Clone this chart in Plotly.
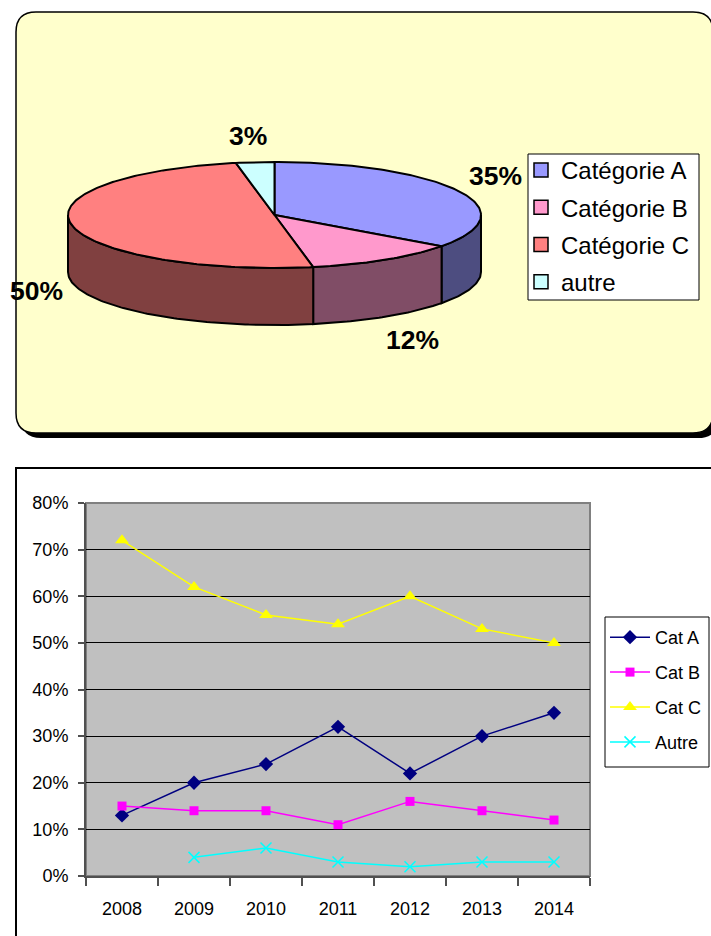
import numpy as np
import plotly.graph_objects as go

# ---------------- data ----------------
pie_labels = ["Catégorie A", "Catégorie B", "Catégorie C", "autre"]
pie_values = [35, 12, 50, 3]
pie_top_colors = ["#9999FF", "#FF99CC", "#FF8080", "#CCFFFF"]
pie_side_colors = ["#4D4D80", "#804D66", "#804040", "#668080"]

years = ["2008", "2009", "2010", "2011", "2012", "2013", "2014"]
cat_a = [0.13, 0.20, 0.24, 0.32, 0.22, 0.30, 0.35]
cat_b = [0.15, 0.14, 0.14, 0.11, 0.16, 0.14, 0.12]
cat_c = [0.72, 0.62, 0.56, 0.54, 0.60, 0.53, 0.50]
autre = [None, 0.04, 0.06, 0.03, 0.02, 0.03, 0.03]
series_names = ["Cat A", "Cat B", "Cat C", "Autre"]
series_colors = ["#000080", "#FF00FF", "#FFFF00", "#00FFFF"]
series_symbols = ["diamond", "square", "triangle-up", "x-thin"]
series_sizes = [11, 9, 12, 11]
y_ticks = [0, 0.1, 0.2, 0.3, 0.4, 0.5, 0.6, 0.7, 0.8]

# ---------------- layout constants ----------------
W, H = 711, 936
FONT = "Liberation Sans, Arial, Helvetica, sans-serif"
CX, CY, RX, RY, DEPTH = 274.5, 215.0, 206.5, 53.0, 57.0

fig = go.Figure()


def arc(t1, t2, dy=0.0, n=None):
    if n is None:
        n = max(2, int(abs(t2 - t1) / 1.0) + 2)
    th = np.radians(np.linspace(t1, t2, n))
    return CX + RX * np.sin(th), CY - RY * np.cos(th) + dy


total = float(sum(pie_values))
starts = np.concatenate([[0.0], np.cumsum(pie_values)[:-1]]) / total * 360.0
ends = np.cumsum(pie_values) / total * 360.0

# side faces (front half only)
for t1, t2, col in zip(starts, ends, pie_side_colors):
    a, b = max(t1, 90.0), min(t2, 270.0)
    if a < b:
        xt, yt = arc(a, b)
        xb, yb = arc(b, a, DEPTH)
        xs = list(xt) + list(xb) + [xt[0]]
        ys = list(yt) + list(yb) + [yt[0]]
        fig.add_trace(go.Scatter(x=xs, y=ys, xaxis="x2", yaxis="y2", mode="lines",
                                 fill="toself", fillcolor=col,
                                 line=dict(color="black", width=2),
                                 showlegend=False, hoverinfo="skip"))

# top faces
for t1, t2, col in zip(starts, ends, pie_top_colors):
    xa, ya = arc(t1, t2)
    xs = [CX] + list(xa) + [CX]
    ys = [CY] + list(ya) + [CY]
    fig.add_trace(go.Scatter(x=xs, y=ys, xaxis="x2", yaxis="y2", mode="lines",
                             fill="toself", fillcolor=col,
                             line=dict(color="black", width=2),
                             showlegend=False, hoverinfo="skip"))

# pie legend entries
for lab, col in zip(pie_labels, pie_top_colors):
    fig.add_trace(go.Scatter(x=[None], y=[None], xaxis="x2", yaxis="y2", mode="markers",
                             name=lab, legend="legend2", legendgroup=lab,
                             marker=dict(symbol="square", size=14, color=col,
                                         line=dict(color="black", width=1.5))))

# pie labels (placed outside each slice, around its mid angle)
annotations = []
for v, t1, t2 in zip(pie_values, starts, ends):
    m = np.radians((t1 + t2) / 2)
    s, c = np.sin(m), np.cos(m)
    lx = CX + 2 + (RX + 11.5) * s + 26 * np.sign(s) * np.sqrt(abs(s))
    ly = CY - (RY + 10) * c - 16 * np.sign(c) * np.sqrt(abs(c)) + (DEPTH if c < 0 else 0)
    annotations.append(dict(x=lx, y=ly, xref="x2", yref="y2", text=f"<b>{v}%</b>",
                            showarrow=False, font=dict(family=FONT, size=26.5, color="black"),
                            xanchor="center", yanchor="middle"))

# line chart
for name, vals, col, sym, sz in zip(series_names, [cat_a, cat_b, cat_c, autre],
                                    series_colors, series_symbols, series_sizes):
    mk = dict(symbol=sym, size=sz, color=col)
    if sym == "x-thin":
        mk["line"] = dict(color=col, width=1.5)
    fig.add_trace(go.Scatter(x=years, y=vals, name=name, mode="lines+markers",
                             line=dict(color=col, width=1.5), marker=mk,
                             legend="legend", legendgroup=name, connectgaps=False))


def rounded(x0, y0, x1, y1, r):
    return (f"M{x0+r},{y0} L{x1-r},{y0} Q{x1},{y0} {x1},{y0+r} L{x1},{y1-r} "
            f"Q{x1},{y1} {x1-r},{y1} L{x0+r},{y1} Q{x0},{y1} {x0},{y1-r} "
            f"L{x0},{y0+r} Q{x0},{y0} {x0+r},{y0} Z")


shapes = [
    # top panel shadow + panel
    dict(type="path", xref="x2", yref="y2", path=rounded(21, 17, 718, 438, 20),
         fillcolor="black", line=dict(width=0), layer="below"),
    dict(type="path", xref="x2", yref="y2", path=rounded(16, 12, 713, 433, 20),
         fillcolor="#FFFFCC", line=dict(color="black", width=1.5), layer="below"),
    # pie legend box
    dict(type="rect", xref="x2", yref="y2", x0=528, x1=699, y0=154, y1=300,
         fillcolor="white", line=dict(color="black", width=1), layer="below"),
    # bottom panel border
    dict(type="rect", xref="x2", yref="y2", x0=16, x1=730, y0=468, y1=950,
         fillcolor="rgba(0,0,0,0)", line=dict(color="black", width=2), layer="below"),
    # line legend box
    dict(type="rect", xref="x2", yref="y2", x0=605, x1=709, y0=617, y1=767,
         fillcolor="white", line=dict(color="black", width=1), layer="below"),
    # plot area background
    dict(type="rect", xref="x domain", yref="y domain", x0=0, x1=1, y0=0, y1=1,
         fillcolor="#C0C0C0", line=dict(color="#808080", width=2), layer="below"),
]

fig.update_layout(
    width=W, height=H,
    margin=dict(l=0, r=0, t=0, b=0, pad=0, autoexpand=False),
    paper_bgcolor="white",
    plot_bgcolor="rgba(0,0,0,0)",
    font=dict(family=FONT, color="black"),
    shapes=shapes,
    annotations=annotations,
    xaxis=dict(domain=[86 / W, 590 / W], type="category", categoryarray=years,
               tickson="boundaries", ticks="outside", ticklen=8, tickwidth=1.5,
               tickcolor="#505050", showline=True, linecolor="#505050", linewidth=2,
               showgrid=False, tickfont=dict(size=18, family=FONT), automargin=False,
               ticklabelstandoff=15, range=[-0.5, 6.5], fixedrange=True),
    yaxis=dict(domain=[(H - 876) / H, (H - 503) / H], range=[0, 0.8],
               tickvals=y_ticks, tickformat=".0%", ticks="outside", ticklen=6,
               tickwidth=1.5, tickcolor="#505050", showline=True, linecolor="#505050",
               linewidth=2, showgrid=True, gridcolor="black", gridwidth=1,
               zeroline=False, tickfont=dict(size=18, family=FONT), automargin=False,
               ticklabelstandoff=6, fixedrange=True),
    xaxis2=dict(domain=[0, 1], range=[0, W], visible=False, anchor="y2",
                fixedrange=True, automargin=False),
    yaxis2=dict(domain=[0, 1], range=[H, 0], visible=False, anchor="x2",
                fixedrange=True, automargin=False),
    legend=dict(x=605 / W, y=1 - 619 / H, xanchor="left", yanchor="top",
                bgcolor="rgba(0,0,0,0)", borderwidth=0, traceorder="grouped",
                tracegroupgap=8.5, itemwidth=40, font=dict(size=18, family=FONT)),
    legend2=dict(x=521 / W, y=1 - 148 / H, xanchor="left", yanchor="top",
                 bgcolor="rgba(0,0,0,0)", borderwidth=0, traceorder="grouped",
                 tracegroupgap=3, font=dict(size=24, family=FONT)),
    showlegend=True,
)

fig.write_html("out.html", config={"displayModeBar": False, "staticPlot": False},
               post_script="document.body.style.margin='0px';"
                           "document.body.style.overflow='hidden';")
